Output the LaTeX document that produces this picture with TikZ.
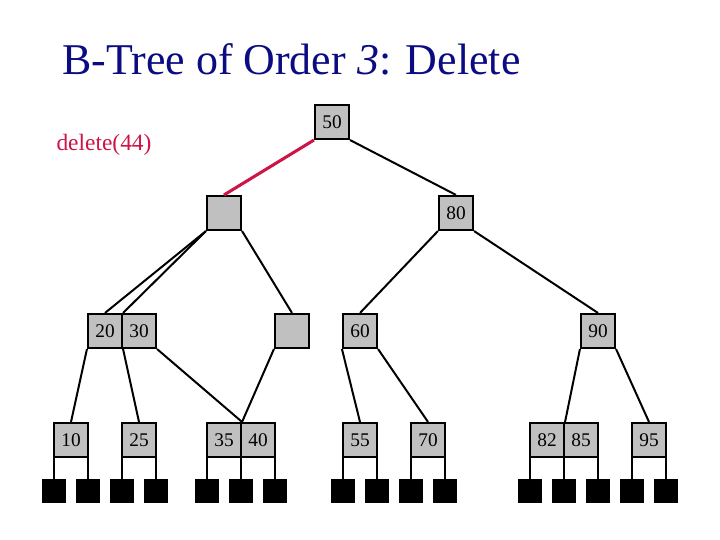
\documentclass[tikz,border=0pt]{standalone}
\usepackage{fontspec}
\setmainfont{Liberation Serif}
\definecolor{titleblue}{RGB}{12,12,130}
\definecolor{delred}{RGB}{204,20,70}
\definecolor{keygray}{RGB}{192,192,192}
\tikzset{
  key/.style={draw, line width=1.8pt, fill=keygray, minimum size=1.02cm, inner sep=0pt, font=\fontsize{16.5}{16.5}\selectfont},
  nil/.style={fill=black, minimum size=0.72cm, inner sep=0pt},
  link/.style={line width=1.7pt},
}
\begin{document}
\begin{tikzpicture}[x=0.03cm, y=-0.03cm]
    \useasboundingbox (0,0) rectangle (720,540);

    % Title and operation
    \node[anchor=base west, inner sep=0pt, text=titleblue, font=\fontsize{37.5}{37.5}\selectfont] (title) at (62,75) {B-Tree of Order \textit{3}: Delete};
    \node[text=delred, font=\fontsize{20}{20}\selectfont] (op) at (104,145) {delete(44)};

    % Nodes
    \node[key] (k50) at (332,122) {50};
    \node[key] (e1) at (224,213) {};
    \node[key] (k80) at (456,213) {80};
    \node[key] (k20) at (105,331) {20};
    \node[key] (k30) at (139,331) {30};
    \node[key] (e2) at (292,331) {};
    \node[key] (k60) at (360,331) {60};
    \node[key] (k90) at (598,331) {90};
    \node[key] (k10) at (71,440) {10};
    \node[key] (k25) at (139,440) {25};
    \node[key] (k35) at (224,440) {35};
    \node[key] (k40) at (258,440) {40};
    \node[key] (k55) at (360,440) {55};
    \node[key] (k70) at (428,440) {70};
    \node[key] (k82) at (547,440) {82};
    \node[key] (k85) at (581,440) {85};
    \node[key] (k95) at (649,440) {95};

    % External nodes
    \foreach \x [count=\i] in {54,88,122,156,207,241,275,343,377,411,445,530,564,598,632,666} {
        \node[nil] (p\i) at (\x,491) {};
        \draw[link] (p\i.north) -- (p\i.north |- k10.south);
    }

    % Edges
    \draw[link, draw=delred, line width=2.6pt] (k50.south west) -- (e1.north);
    \draw[link] (k50.south east) -- (k80.north);
    \draw[link] (e1.south west) -- (k20.north);
    \draw[link] (e1.south west) -- (k20.north east);
    \draw[link] (e1.south east) -- (e2.north);
    \draw[link] (k80.south west) -- (k60.north);
    \draw[link] (k80.south east) -- (k90.north);
    \draw[link] (k20.south west) -- (k10.north);
    \draw[link] (k20.south east) -- (k25.north);
    \draw[link] (k30.south east) -- (k35.north east);
    \draw[link] (e2.south west) -- (k35.north east);
    \draw[link] (k60.south west) -- (k55.north);
    \draw[link] (k60.south east) -- (k70.north);
    \draw[link] (k90.south west) -- (k82.north east);
    \draw[link] (k90.south east) -- (k95.north);
\end{tikzpicture}
\end{document}
